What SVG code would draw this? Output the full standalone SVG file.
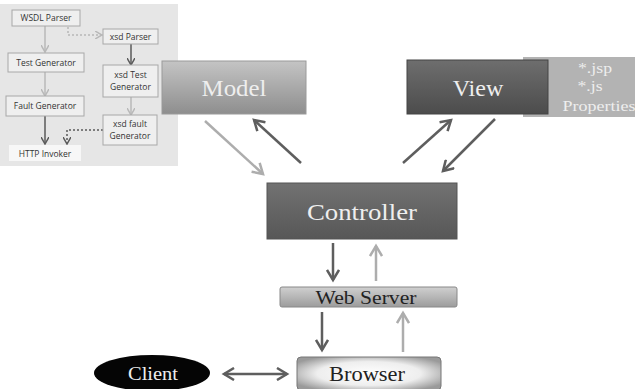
<svg xmlns="http://www.w3.org/2000/svg" width="635" height="389" viewBox="0 0 635 389">
<style>
.sm{fill:#efefef;stroke:#a8a8a8;stroke-width:1}
.smt{font-family:"Open Sans","Liberation Sans",sans-serif;font-size:8.5px;fill:#333;text-anchor:middle}
.big{font-family:"Liberation Serif",serif;text-anchor:middle;fill:#eeeeee}
.dk{font-family:"Liberation Serif",serif;text-anchor:middle;fill:#222}
.lg{stroke:#b8b8b8;stroke-width:1.5;fill:none}
.dg{stroke:#5a5a5a;stroke-width:1.5;fill:none}
.A{stroke-width:2.5;fill:none}
</style>
<defs>
<linearGradient id="gModel" x1="0" y1="0" x2="0" y2="1"><stop offset="0" stop-color="#c4c4c4"/><stop offset="1" stop-color="#8e8e8e"/></linearGradient>
<linearGradient id="gView" x1="0" y1="0" x2="0" y2="1"><stop offset="0" stop-color="#6e6e6e"/><stop offset="1" stop-color="#4c4c4c"/></linearGradient>
<linearGradient id="gCtrl" x1="0" y1="0" x2="0" y2="1"><stop offset="0" stop-color="#727272"/><stop offset="1" stop-color="#575757"/></linearGradient>
<linearGradient id="gWeb" x1="0" y1="0" x2="0" y2="1"><stop offset="0" stop-color="#d0d0d0"/><stop offset="1" stop-color="#9c9c9c"/></linearGradient>
<radialGradient id="gBrow" cx="0.5" cy="0.5" r="0.6"><stop offset="0" stop-color="#ffffff"/><stop offset="0.6" stop-color="#eeeeee"/><stop offset="1" stop-color="#9a9a9a"/></radialGradient>
<marker id="hL" markerWidth="8" markerHeight="8" refX="6" refY="4" orient="auto" markerUnits="userSpaceOnUse"><path d="M0,0 L7,4 L0,8" fill="none" stroke="#b8b8b8" stroke-width="1.5"/></marker>
<marker id="hD" markerWidth="8" markerHeight="8" refX="6" refY="4" orient="auto" markerUnits="userSpaceOnUse"><path d="M0,0 L7,4 L0,8" fill="none" stroke="#5a5a5a" stroke-width="1.5"/></marker>
<marker id="HL" markerWidth="14" markerHeight="14" refX="11" refY="7" orient="auto" markerUnits="userSpaceOnUse"><path d="M1,1 L11,7 L1,13" fill="none" stroke="#adadad" stroke-width="2.5"/></marker>
<marker id="HD" markerWidth="14" markerHeight="14" refX="11" refY="7" orient="auto" markerUnits="userSpaceOnUse"><path d="M1,1 L11,7 L1,13" fill="none" stroke="#5e5e5e" stroke-width="2.5"/></marker>
<marker id="HDs" markerWidth="14" markerHeight="14" refX="3" refY="7" orient="auto" markerUnits="userSpaceOnUse"><path d="M13,1 L3,7 L13,13" fill="none" stroke="#5e5e5e" stroke-width="2.5"/></marker>
</defs>
<rect width="635" height="389" fill="#ffffff"/>
<rect x="0" y="4" width="178" height="162" fill="#e6e6e6"/>

<g id="connectors">
<line class="lg" x1="45" y1="26" x2="45" y2="51" marker-end="url(#hL)"/>
<line class="lg" x1="45" y1="72" x2="45" y2="95" marker-end="url(#hL)"/>
<line class="dg" x1="45" y1="116" x2="45" y2="143" marker-end="url(#hD)"/>
<polyline class="lg" stroke-dasharray="2,2" points="68,27 68,35 101,35" marker-end="url(#hL)"/>
<line class="dg" x1="131" y1="44" x2="131" y2="64" marker-end="url(#hD)"/>
<line class="lg" x1="131" y1="97" x2="131" y2="114" marker-end="url(#hL)"/>
<polyline class="dg" stroke-dasharray="2,2" points="103,130 67,130 67,143" marker-end="url(#hD)"/>

<line class="A" stroke="#adadad" x1="205" y1="121" x2="263" y2="174" marker-end="url(#HL)"/>
<line class="A" stroke="#5e5e5e" x1="301" y1="163" x2="254" y2="120" marker-end="url(#HD)"/>
<line class="A" stroke="#5e5e5e" x1="403" y1="163" x2="451" y2="120" marker-end="url(#HD)"/>
<line class="A" stroke="#5e5e5e" x1="495" y1="119" x2="443" y2="171" marker-end="url(#HD)"/>
<line class="A" stroke="#5e5e5e" x1="333" y1="243" x2="333" y2="280" marker-end="url(#HD)"/>
<line class="A" stroke="#adadad" x1="376" y1="281" x2="376" y2="246" marker-end="url(#HL)"/>
<line class="A" stroke="#5e5e5e" x1="322" y1="312" x2="322" y2="350" marker-end="url(#HD)"/>
<line class="A" stroke="#adadad" x1="403" y1="352" x2="403" y2="313" marker-end="url(#HL)"/>
<line class="A" stroke="#5e5e5e" x1="224" y1="374" x2="287" y2="374" marker-start="url(#HDs)" marker-end="url(#HD)"/>
</g>

<g id="wsdl"><rect class="sm" x="12" y="10" width="68" height="16"/><text class="smt" x="46" y="21">WSDL Parser</text></g>
<g id="testgen"><rect class="sm" x="8" y="53" width="76" height="19"/><text class="smt" x="46" y="65.5">Test Generator</text></g>
<g id="faultgen"><rect class="sm" x="6" y="96" width="78" height="20" stroke="#888"/><text class="smt" x="45" y="109">Fault Generator</text></g>
<g id="http"><rect x="9" y="145" width="72" height="16" fill="#f7f7f7"/><text class="smt" x="45" y="156.5">HTTP  Invoker</text></g>
<g id="xsdparser"><rect class="sm" x="103" y="29" width="55" height="15"/><text class="smt" x="130.5" y="39.5">xsd Parser</text></g>
<g id="xsdtest"><rect class="sm" x="103" y="65" width="55" height="32"/><text class="smt" x="130.5" y="78">xsd Test</text><text class="smt" x="130.5" y="90">Generator</text></g>
<g id="xsdfault"><rect class="sm" x="103" y="115" width="54" height="30"/><text class="smt" x="130" y="127">xsd fault</text><text class="smt" x="130" y="139">Generator</text></g>

<g id="model"><rect x="162" y="61" width="144" height="53" fill="url(#gModel)" stroke="#9a9a9a"/><text class="big" x="234" y="96" font-size="24" textLength="65" lengthAdjust="spacingAndGlyphs">Model</text></g>
<g id="props"><rect x="523" y="57" width="112" height="60" fill="#b3b3b3"/><text class="big" x="595" y="73" font-size="14" textLength="34" lengthAdjust="spacingAndGlyphs">*.jsp</text><text class="big" x="590" y="91" font-size="14" textLength="25" lengthAdjust="spacingAndGlyphs">*.js</text><text class="big" x="599" y="111" font-size="14" textLength="73" lengthAdjust="spacingAndGlyphs">Properties</text></g>
<g id="view"><rect x="407" y="60" width="141" height="54" fill="url(#gView)" stroke="#444"/><text class="big" x="478" y="96" font-size="24">View</text></g>
<g id="controller"><rect x="267" y="183" width="190" height="56" fill="url(#gCtrl)" stroke="#555"/><text class="big" x="362" y="220" font-size="24" textLength="110" lengthAdjust="spacingAndGlyphs">Controller</text></g>
<g id="webserver"><rect x="280" y="287" width="177" height="20" rx="2" fill="url(#gWeb)" stroke="#888"/><text class="dk" x="366" y="304" font-size="19" textLength="101" lengthAdjust="spacingAndGlyphs">Web Server</text></g>
<g id="browser"><rect x="297" y="357" width="144" height="33" rx="4" fill="url(#gBrow)" stroke="#777"/><text class="dk" x="367" y="381" font-size="21" textLength="76" lengthAdjust="spacingAndGlyphs">Browser</text></g>
<g id="client"><ellipse cx="152" cy="373" rx="58" ry="18" fill="#050505"/><text class="big" x="153" y="380" font-size="19" fill="#fff" textLength="50" lengthAdjust="spacingAndGlyphs">Client</text></g>
</svg>
